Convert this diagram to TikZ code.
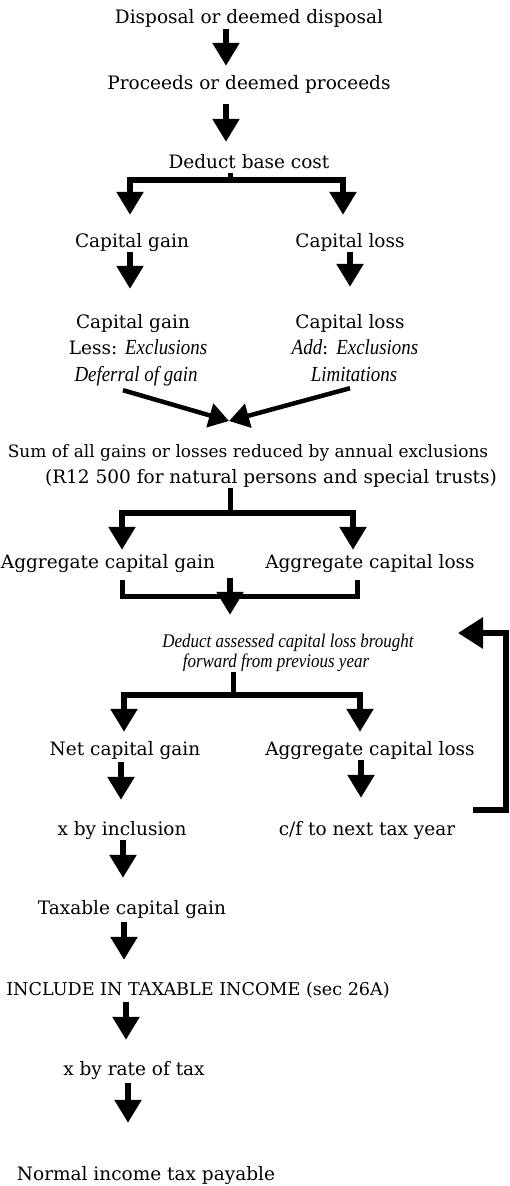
\documentclass[tikz,border=0pt]{standalone}
\usepackage{fontspec}
\setmainfont{DejaVu Serif}
\newfontfamily\itfont{Liberation Serif}[FakeStretch=0.88]
\usepackage{tikz}
\usetikzlibrary{arrows.meta}
\newcommand{\ital}[1]{{\itfont\itshape\fontsize{21.5}{22}\selectfont #1}}
\newcommand{\headlen}{23pt}
\newcommand{\headwid}{26pt}
\tikzset{
    txt/.style={anchor=base, inner sep=0pt, text height=14pt, text depth=5pt, font=\fontsize{18.5}{22}\selectfont},
    narrow/.style={txt, font=\fontsize{17}{22}\selectfont},
    note/.style={txt, font=\fontsize{19.3}{20}\selectfont\itfont\itshape},
    rail/.style={line width=5pt},
    flow/.style={line width=5.5pt, -{Triangle[length=\headlen, width=\headwid]}},
    slant/.style={line width=4.5pt, -{Triangle[length=20pt, width=24pt]}},
    loopback/.style={line width=6pt, -{Triangle[length=25pt, width=30pt]}}
}

\begin{document}
\begin{tikzpicture}[x=1pt, y=-1pt]
      \useasboundingbox (0,0) rectangle (509,1186);

      \path
          (249,23) node[txt] (disposal) {Disposal or deemed disposal}
          (249,89) node[txt] (proceeds) {Proceeds or deemed proceeds}
          (249,168) node[txt] (deduct) {Deduct base cost}
          (132,247) node[txt] (gain-a) {Capital gain}
          (350,247) node[txt] (loss-a) {Capital loss}
          (133,328) node[txt] (gain-b) {Capital gain}
          (138,354) node[txt] (gain-less) {Less: \ital{Exclusions}}
          (136,381) node[txt] (gain-defer) {\ital{Deferral of gain}}
          (350,328) node[txt] (loss-b) {Capital loss}
          (355,354) node[txt] (loss-add) {\ital{Add}: \ital{Exclusions}}
          (354,381) node[txt] (loss-limit) {\ital{Limitations}};

      \path
          (248,457) node[narrow] (sum) {Sum of all gains or losses reduced by annual exclusions}
          (271,483) node[txt] (sum-note) {(R12 500 for natural persons and special trusts)}
          (108,568) node[txt] (agg-gain) {Aggregate capital gain}
          (370,568) node[txt] (agg-loss) {Aggregate capital loss}
          (288,647) node[note] (bf) {Deduct assessed capital loss brought}
          (276,667) node[note] (bf-b) {forward from previous year}
          (125,755) node[txt] (net) {Net capital gain}
          (370,755) node[txt] (agg-loss-b) {Aggregate capital loss}
          (122,835) node[txt] (incl) {x by inclusion}
          (367,835) node[txt] (cf) {c/f to next tax year}
          (132,914) node[txt] (taxable) {Taxable capital gain}
          (198,995) node[txt, font=\fontsize{17.6}{22}\selectfont] (include) {INCLUDE IN TAXABLE INCOME (sec 26A)}
          (134,1075) node[txt] (rate) {x by rate of tax}
          (146,1180) node[txt] (normal) {Normal income tax payable};

      \coordinate (fork-a) at (230,180);
      \coordinate (join-a) at (229,421);
      \coordinate (fork-b) at (230,513);
      \coordinate (join-b) at (230,596);
      \coordinate (fork-c) at (233,695);
      \coordinate (loop-out) at (473,810);
      \coordinate (loop-corner) at (506,633);
      \coordinate (loop-in) at (458,633);

      \draw[flow, shorten <=1pt, shorten >=9pt] ([xshift=-23pt]disposal.south) -- ([xshift=-23pt]proceeds.north);
      \draw[flow, shorten <=10pt, shorten >=12pt] ([xshift=-23pt]proceeds.south) -- ([xshift=-23pt]deduct.north);

      \draw[rail] ([xshift=-19pt]deduct.south) -- (fork-a);
      \draw[flow, shorten >=18pt] (fork-a) -| ([xshift=-2pt]gain-a.north);
      \draw[flow, shorten >=18pt] (fork-a) -| ([xshift=-7pt]loss-a.north);
      \draw[flow, shorten >=25pt] ([xshift=-2pt]gain-a.south) -- ([xshift=-3pt]gain-b.north);
      \draw[flow, shorten >=27pt] (loss-a.south) -- (loss-b.north);

      \draw[slant] ([xshift=-13pt, yshift=-4pt]gain-defer.south) -- (join-a);
      \draw[slant] ([xshift=-4pt, yshift=-2pt]loss-limit.south) -- (join-a);

      \draw[rail] ([xshift=-41pt]sum-note.south) -- (fork-b);
      \draw[flow, shorten >=4pt] (fork-b) -| ([xshift=14pt]agg-gain.north);
      \draw[flow, shorten >=4pt] (fork-b) -| ([xshift=-17pt]agg-loss.north);

      \draw[rail] ([xshift=14pt, yshift=-7pt]agg-gain.south) |- (join-b) -| ([xshift=-13pt, yshift=-7pt]agg-loss.south);
      \draw[flow, shorten <=5pt, shorten >=18pt] (join-b |- agg-gain.south) -- (join-b |- bf.north);

      \draw[rail] (fork-c |- bf-b.south) -- (fork-c);
      \draw[flow, shorten >=9pt] (fork-c) -| ([xshift=-1pt]net.north);
      \draw[flow, shorten >=9pt] (fork-c) -| ([xshift=-10pt]agg-loss-b.north);

      \draw[flow, shorten <=2pt, shorten >=21pt] ([xshift=-4pt]net.south) -- ([xshift=-1pt]incl.north);
      \draw[flow, shorten >=23pt] ([xshift=-9pt]agg-loss-b.south) -- ([xshift=-6pt]cf.north);
      \draw[flow, shorten >=22pt] ([xshift=1pt]incl.south) -- ([xshift=-9pt]taxable.north);
      \draw[flow, shorten <=3pt, shorten >=21pt] ([xshift=-8pt]taxable.south) -- ([xshift=-74pt]include.north);
      \draw[flow, shorten <=2pt, shorten >=21pt] ([xshift=-72pt]include.south) -- ([xshift=-8pt]rate.north);
      \draw[flow, shorten <=3pt, shorten >=43pt] ([xshift=-6pt]rate.south) -- ([xshift=-18pt]normal.north);

      \draw[loopback] (loop-out) -| (loop-corner) -- (loop-in);
\end{tikzpicture}
\end{document}
